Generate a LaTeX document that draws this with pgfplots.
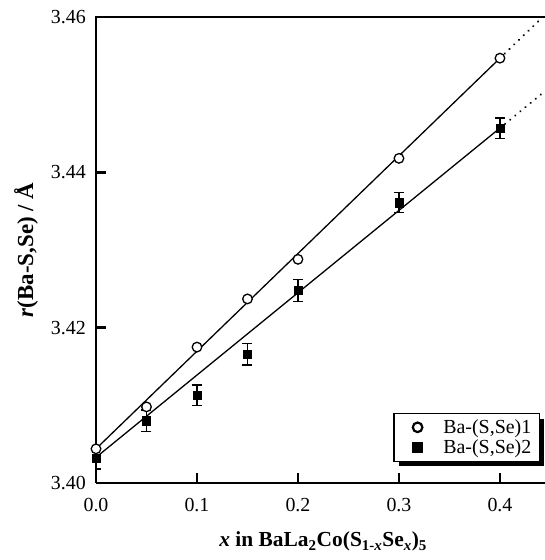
\documentclass[border=0pt]{standalone}
\usepackage{pgfplots}
\pgfplotsset{compat=1.18}
\usepackage{pgfplotstable}
\usepackage{fontspec}
\setmainfont{Liberation Serif}
\usetikzlibrary{shadows}

% site 1: open circles
\pgfplotstableread{
x     y
0.00  3.4044
0.05  3.4098
0.10  3.4175
0.15  3.4237
0.20  3.4288
0.30  3.4418
0.40  3.4547
}\siteone

% site 2: filled squares with error bars
\pgfplotstableread{
x     y       e
0.00  3.4032  0.0014
0.05  3.4080  0.0014
0.10  3.4113  0.0013
0.15  3.4166  0.0014
0.20  3.4248  0.0014
0.30  3.4361  0.0013
0.40  3.4457  0.0013
}\sitetwo

\begin{document}
\begin{tikzpicture}
\useasboundingbox (-96bp,-77bp) rectangle (449bp,483bp);
\begin{axis}[
    at={(0,0)}, anchor=south west,
    scale only axis,
    width=449bp, height=466bp,
    xmin=0, xmax=0.4446,
    ymin=3.40, ymax=3.46,
    axis lines*=left,
    axis line style={-, line width=2.5bp},
    clip mode=individual,
    tick align=inside,
    major tick length=10bp,
    tick style={line width=2.5bp, black},
    xtick={0,0.1,0.2,0.3,0.4},
    ytick={3.40,3.42,3.44,3.46},
    /pgf/number format/assume math mode=true,
    tick label style={font=\fontsize{20}{24}\selectfont},
    xticklabel style={anchor=north, inner sep=0pt, yshift=-15bp,
        /pgf/number format/.cd, fixed, fixed zerofill, precision=1},
    yticklabel style={anchor=east, inner sep=0pt, xshift=-10bp,
        /pgf/number format/.cd, fixed, fixed zerofill, precision=2},
    xlabel={\textit{x} in BaLa\textsubscript{2}Co(S\textsubscript{1-\textit{x}}Se\textsubscript{\textit{x}})\textsubscript{5}},
    ylabel={\textit{r}(Ba-S,Se) / Å},
    every axis x label/.style={at={(axis description cs:0.506,-0.1373)}, anchor=base,
        font=\fontsize{21.5}{26}\selectfont\bfseries},
    every axis y label/.style={at={(axis description cs:-0.1403,0.5)}, rotate=90, anchor=base,
        font=\fontsize{23}{28}\selectfont\bfseries},
    reverse legend,
    legend cell align=left,
    legend image code/.code={
        \draw[#1, every mark/.append style={line width=2.2bp}] plot coordinates {(0bp,0bp)};
        \path (-17bp,0bp) (23bp,0bp);
    },
    legend style={at={(rel axis cs:0.989,0.045)}, anchor=south east,
        draw=black, line width=1.5bp, fill=white,
        font=\fontsize{20}{24}\selectfont,
        inner xsep=6bp, inner ysep=4bp, row sep=1bp,
        drop shadow={shadow xshift=5bp, shadow yshift=-5bp, fill=black, opacity=1}},
]
    % top frame line (no right spine, picture is cut there)
    \draw[line width=2.5bp, line cap=rect] (rel axis cs:0,1) -- (rel axis cs:1.05,1);

    % fitted lines, dotted beyond the data
    \addplot[line width=1.3bp, forget plot] coordinates {(0,3.4044) (0.4,3.4547)};
    \addplot[line width=2.2bp, line cap=round, dash pattern=on 0.1bp off 6.5bp, forget plot]
        coordinates {(0.4,3.4547) (0.46,3.4622)};
    \addplot[line width=1.3bp, forget plot] coordinates {(0,3.4033) (0.4,3.4457)};
    \addplot[line width=2.2bp, line cap=round, dash pattern=on 0.1bp off 6.5bp, forget plot]
        coordinates {(0.4,3.4457) (0.46,3.4521)};

    \addplot[only marks, mark=square*, mark size=4.2bp, black,
        error bars/.cd, y dir=both, y explicit,
        error bar style={line width=1.3bp},
        error mark options={rotate=90, mark size=5bp, line width=1.3bp}]
        table[x=x, y=y, y error=e] {\sitetwo};
    \addlegendentry{Ba-(S,Se)2}

    \addplot[only marks, mark=*, mark size=4.8bp,
        mark options={fill=white, draw=black, line width=1.3bp}]
        table[x=x, y=y] {\siteone};
    \addlegendentry{Ba-(S,Se)1}
\end{axis}
\end{tikzpicture}
\end{document}
